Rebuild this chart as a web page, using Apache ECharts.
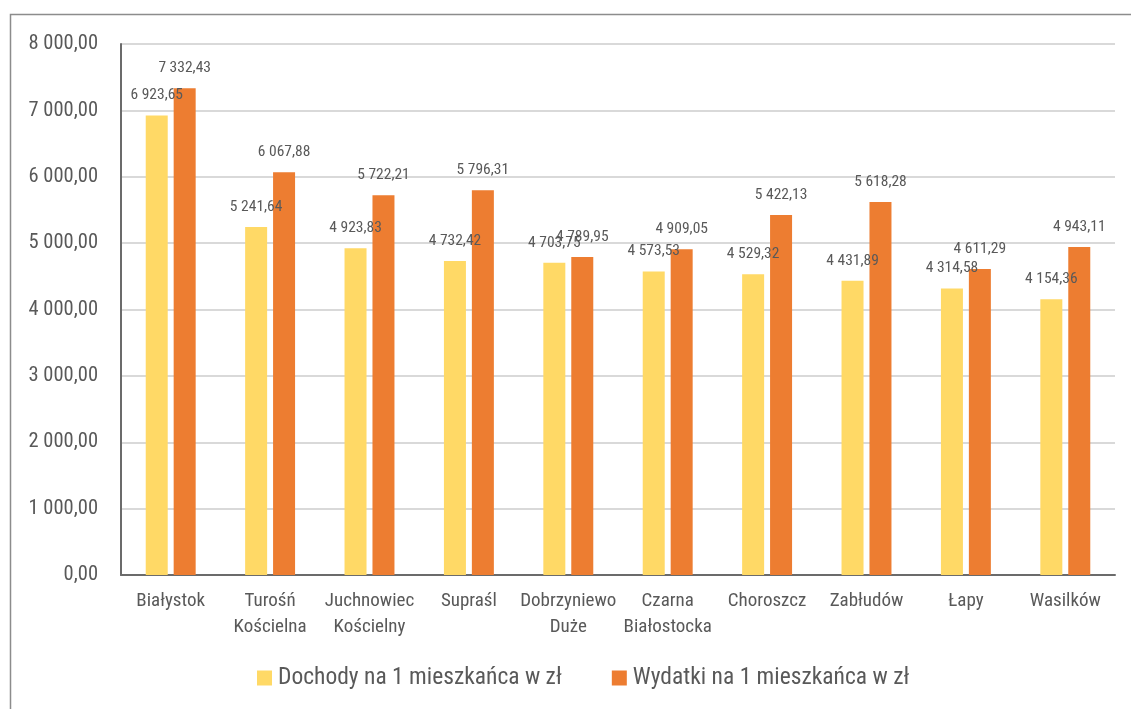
<!DOCTYPE html>
<html><head><meta charset="utf-8">
<script src="https://cdn.jsdelivr.net/npm/echarts@6/dist/echarts.min.js"></script>
<style>html,body{margin:0;padding:0;background:#fff}#c{width:1131px;height:709px}</style>
</head><body><div id="c"></div>
<script>
const categories = ['Białystok','Turośń\nKościelna','Juchnowiec\nKościelny','Supraśl','Dobrzyniewo\nDuże','Czarna\nBiałostocka','Choroszcz','Zabłudów','Łapy','Wasilków'];
const seriesNames = ['Dochody na 1 mieszkańca w zł','Wydatki na 1 mieszkańca w zł'];
const dochody = [6923.65,5241.64,4923.83,4732.42,4703.75,4573.53,4529.32,4431.89,4314.58,4154.36];
const wydatki = [7332.43,6067.88,5722.21,5796.31,4789.95,4909.05,5422.13,5618.28,4611.29,4943.11];
const yTicks = {min:0, max:8000, interval:1000};

const FONT = "'Roboto Condensed','Liberation Sans Narrow','DejaVu Sans Condensed',Roboto,sans-serif";
function fmt(v){
  const s = v.toFixed(2).split('.');
  return s[0].replace(/\B(?=(\d{3})+(?!\d))/g,' ') + ',' + s[1];
}
const chart = echarts.init(document.getElementById('c'));
chart.setOption({
  animation:false,
  textStyle:{fontFamily:FONT},
  graphic:[{type:'rect',shape:{x:10.5,y:14.5,width:1200,height:800},style:{fill:'none',stroke:'#8c8c8c',lineWidth:1.5},silent:true,z:-1}],
  grid:{left:121,right:16,top:44,bottom:134,containLabel:false},
  legend:{bottom:14,left:252,itemWidth:15,itemHeight:15,itemGap:50,icon:'rect',
    textStyle:{fontFamily:FONT,fontSize:23.5,color:'#595959',padding:[0,0,0,1]},data:seriesNames},
  xAxis:{type:'category',data:categories,
    axisLine:{lineStyle:{color:'#6b6b6b',width:2}},axisTick:{show:false},
    axisLabel:{interval:0,color:'#595959',fontSize:19,lineHeight:26,margin:13,fontFamily:FONT}},
  yAxis:{type:'value',min:yTicks.min,max:yTicks.max,interval:yTicks.interval,
    axisLine:{show:true,lineStyle:{color:'#6b6b6b',width:2}},axisTick:{show:false},
    splitLine:{lineStyle:{color:'#d9d9d9',width:2}},
    axisLabel:{color:'#595959',fontSize:20.5,margin:23,fontFamily:FONT,formatter:fmt}},
  series:[
    {name:seriesNames[0],type:'bar',data:dochody,barWidth:22,barGap:'27%',
     itemStyle:{color:'#FFD966'},
     label:{show:true,position:'top',distance:12,color:'#595959',fontSize:15.5,fontFamily:FONT,formatter:p=>fmt(p.value)}},
    {name:seriesNames[1],type:'bar',data:wydatki,barWidth:22,
     itemStyle:{color:'#ED7D31'},
     label:{show:true,position:'top',distance:12,color:'#595959',fontSize:15.5,fontFamily:FONT,formatter:p=>fmt(p.value)}}
  ]
});
</script></body></html>
